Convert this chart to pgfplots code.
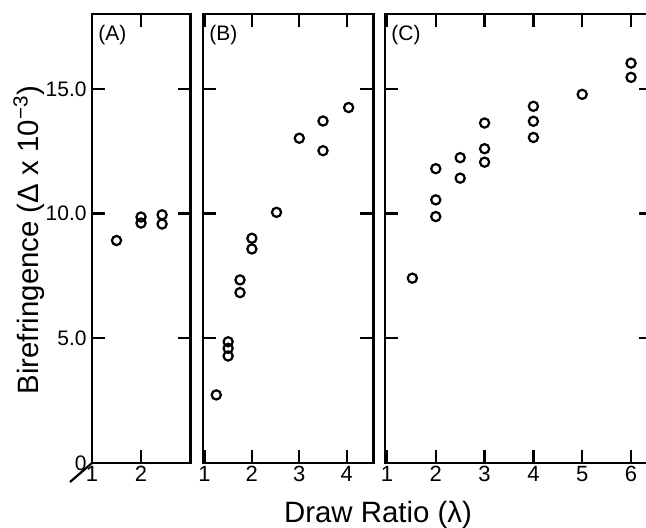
\documentclass[border=0pt]{standalone}
\usepackage{fontspec}
\setmainfont{Liberation Sans}
\usepackage{pgfplots}
\pgfplotsset{compat=1.18}
\tikzset{plab/.style={anchor=north west, inner sep=0pt, font=\fontsize{10.5}{12}\selectfont, xshift=3pt, yshift=-5.5pt},
  pts/.style={black, only marks, mark=o, mark size=2.3pt, mark options={line width=1.1pt, black}}}
\begin{document}
\begin{tikzpicture}
\useasboundingbox (0,0) rectangle (323pt,263.5pt);
\clip (0,0) rectangle (323pt,263.5pt);
\pgfplotsset{
  panel/.style={
    scale only axis, anchor=south west, height=224.5pt,
    ymin=0, ymax=18, clip=false,
    axis line style={line width=1.3pt},
    every tick/.style={line width=1.1pt, black},
    major tick length=6.5pt,
    tick align=inside,
    xtick pos=both, ytick pos=both,
    xticklabel pos=lower, yticklabel pos=left,
    ytick={0,5,10,15},
    xticklabel style={font=\fontsize{11}{13}\selectfont, inner sep=0pt, anchor=north, yshift=-1.5pt},
    yticklabel style={font=\fontsize{10.5}{13}\selectfont, inner sep=0pt, anchor=east, xshift=-2.5pt},
    /pgf/number format/assume math mode=true,
  },
}
% Panel A
\begin{axis}[panel, at={(46pt,32pt)}, width=49.25pt,
  xmin=1, xmax=3.01, xtick={1,2}, xticklabels={1,2},
  yticklabels={0,5.0,10.0,15.0}]
\addplot[pts] coordinates {(1.5,8.92) (2,9.86) (2,9.62) (2.43,9.95) (2.43,9.58)};
\node[plab] at (rel axis cs:0,1) {(A)};
\draw[line width=1.1pt] (rel axis cs:0,0) -- ++(-11pt,-9.5pt);
\end{axis}
% Panel B
\begin{axis}[panel, at={(101.5pt,32pt)}, width=85.15pt,
  xmin=0.97, xmax=4.56, xtick={1,2,3,4}, xticklabels={1,2,3,4},
  yticklabels={}]
\addplot[pts] coordinates {(1.25,2.73) (1.5,4.86) (1.5,4.6) (1.5,4.29)
  (1.75,7.34) (1.75,6.83) (2,9.01) (2,8.58) (2.52,10.05) (3,13.02)
  (3.5,13.71) (3.5,12.52) (4.04,14.25)};
\node[plab] at (rel axis cs:0,1) {(B)};
\end{axis}
% Panel C
\begin{axis}[panel, at={(192.5pt,32pt)}, width=133.5pt,
  xmin=0.96, xmax=6.43, xtick={1,2,3,4,5,6}, xticklabels={1,2,3,4,5,6},
  yticklabels={}]
\addplot[pts] coordinates {(1.52,7.41) (2,11.8) (2,10.55) (2,9.88)
  (2.5,12.24) (2.5,11.42) (3,13.63) (3,12.6) (3,12.06)
  (4,14.3) (4,13.7) (4,13.05) (5,14.78) (6,16.03) (6,15.46)};
\node[plab] at (rel axis cs:0,1) {(C)};
\end{axis}
\node[anchor=base, inner sep=0pt, font=\fontsize{14.7}{17}\selectfont] at (189pt,2.5pt) {Draw Ratio (λ)};
\node[anchor=base, rotate=90, inner sep=0pt, font=\fontsize{14.7}{17}\selectfont] at (19pt,143.5pt) {Birefringence (Δ x 10\textsuperscript{−3})};
\end{tikzpicture}
\end{document}
